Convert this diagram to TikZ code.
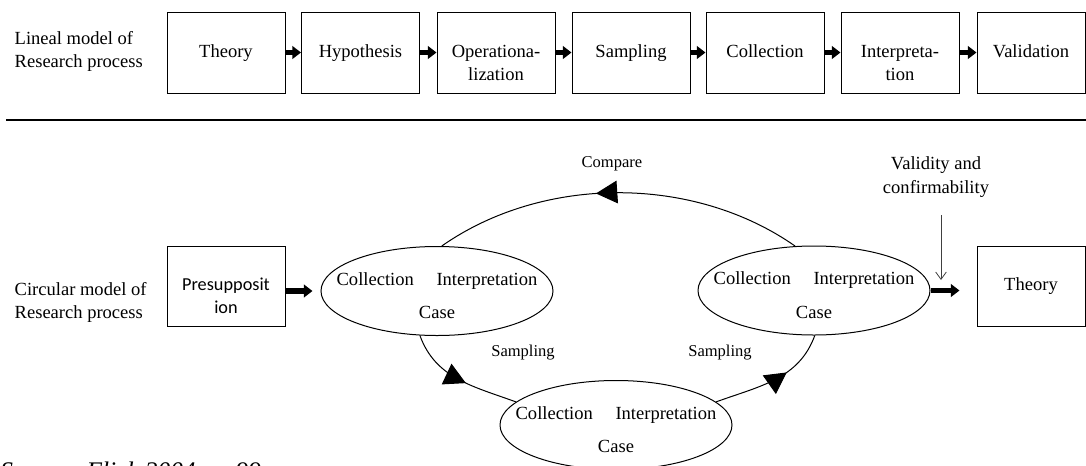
\documentclass[tikz,border=0pt]{standalone}
\usepackage{fontspec}
\setmainfont{Liberation Serif}
\newfontfamily\calibrifont{Carlito}
\usetikzlibrary{arrows.meta,shapes.geometric,decorations.markings}

\begin{document}
\begin{tikzpicture}[x=0.75pt,y=-0.75pt,
  txt/.style={font=\fontsize{13.9}{17.3}\selectfont},
  small/.style={font=\fontsize{12.4}{15}\selectfont},
  box/.style={draw, line width=0.75pt, minimum width=88.5pt, minimum height=60.75pt,
              align=center, inner sep=0pt, txt},
  casebox/.style={draw, ellipse, line width=0.75pt, minimum width=174pt,
                  minimum height=66.75pt, inner sep=0pt},
  fat/.style={line width=4.4pt, -{Triangle[length=6.5pt,width=9.5pt]}},
  loop/.style={line width=0.75pt},
  midtip/.style={postaction={decorate,decoration={markings,
      mark=at position #1 with {\arrow{Triangle[length=16pt,width=17pt]}}}}},
  pointer/.style={line width=0.6pt, draw=black!75, -{Straight Barb[length=5.5pt,width=8pt]}},
]
\useasboundingbox (0,0) rectangle (1086,465);

% ---------- linear model ----------
\node[txt, anchor=west, align=left] (linlab) at (10,51) {Lineal model of\\Research process};

\node[box] (t1) at (226,52.5)   {Theory\strut};
\node[box] (t2) at (360.5,52.5) {Hypothesis\strut};
\node[box] (t3) at (496,52.5)   {\strut\\Operationa-\\lization\strut};
\node[box] (t4) at (631,52.5)   {Sampling\strut};
\node[box] (t5) at (765,52.5)   {Collection\strut};
\node[box] (t6) at (900,52.5)   {\strut\\Interpreta-\\tion\strut};
\node[box, minimum width=81pt] (t7) at (1031,52.5) {Validation\strut};

\foreach \a/\b in {t1/t2,t2/t3,t3/t4,t4/t5,t5/t6,t6/t7}
  \draw[fat] (\a.east) -- (\b.west);

% separating rule
\draw[line width=1.5pt] (6,119.5) -- (1086,119.5);

% ---------- circular model ----------
\node[txt, anchor=west, align=left] (cirlab) at (10,302) {Circular model of\\Research process};

\node[box, font=\calibrifont\fontsize{13.7}{17.3}\selectfont, minimum height=60pt]
  (pre) at (226,286) {\strut\\Presupposit\\ion\strut};
\node[box, minimum width=81pt, minimum height=60pt] (thb) at (1031,286) {Theory\strut};

\node[casebox, label={[txt, align=center, yshift=-3.5pt]center:{Collection\hspace{17pt}Interpretation\\[7.5pt]Case}}]
  (e1) at (437,291) {};
\node[casebox, label={[txt, align=center, yshift=-3.5pt]center:{Collection\hspace{17pt}Interpretation\\[7.5pt]Case}}]
  (e3) at (814,290.5) {};
\node[casebox, label={[txt, align=center, yshift=-3.5pt]center:{Collection\hspace{17pt}Interpretation\\[7.5pt]Case}}]
  (e2) at (616,425) {};

\draw[fat, shorten >=6pt] (pre.east |- e1.west) -- (e1.west);
\draw[fat, shorten >=12.75pt] (e3.east) -- (thb.west |- e3.east);

% loop between the cases
\draw[loop, midtip=0.56] (e3.113) to[out=145,in=35,looseness=0.9] (e1.84);
\draw[loop, midtip=0.56] (e1.249) to[out=-70,in=160] (e2.167);
\draw[loop, midtip=0.62] (e2.13) to[out=20,in=-110] (e3.271);

\node[small] (cmp) at (612,164) {Compare};
\node[small] (s1) at (523,353) {Sampling};
\node[small] (s2) at (720,353) {Sampling};

\node[txt, align=center, font=\fontsize{13.9}{18}\selectfont] (val) at (936,177) {Validity and\\confirmability};
\coordinate (vtip) at (941,280);
\draw[pointer, shorten <=10pt] (val.south -| vtip) -- (vtip);

\node[anchor=base west, inner sep=0pt, font=\fontsize{19}{22}\selectfont\itshape] (src) at (0,479)
  {Source: Flick 2004, p. 99};
\end{tikzpicture}
\end{document}
